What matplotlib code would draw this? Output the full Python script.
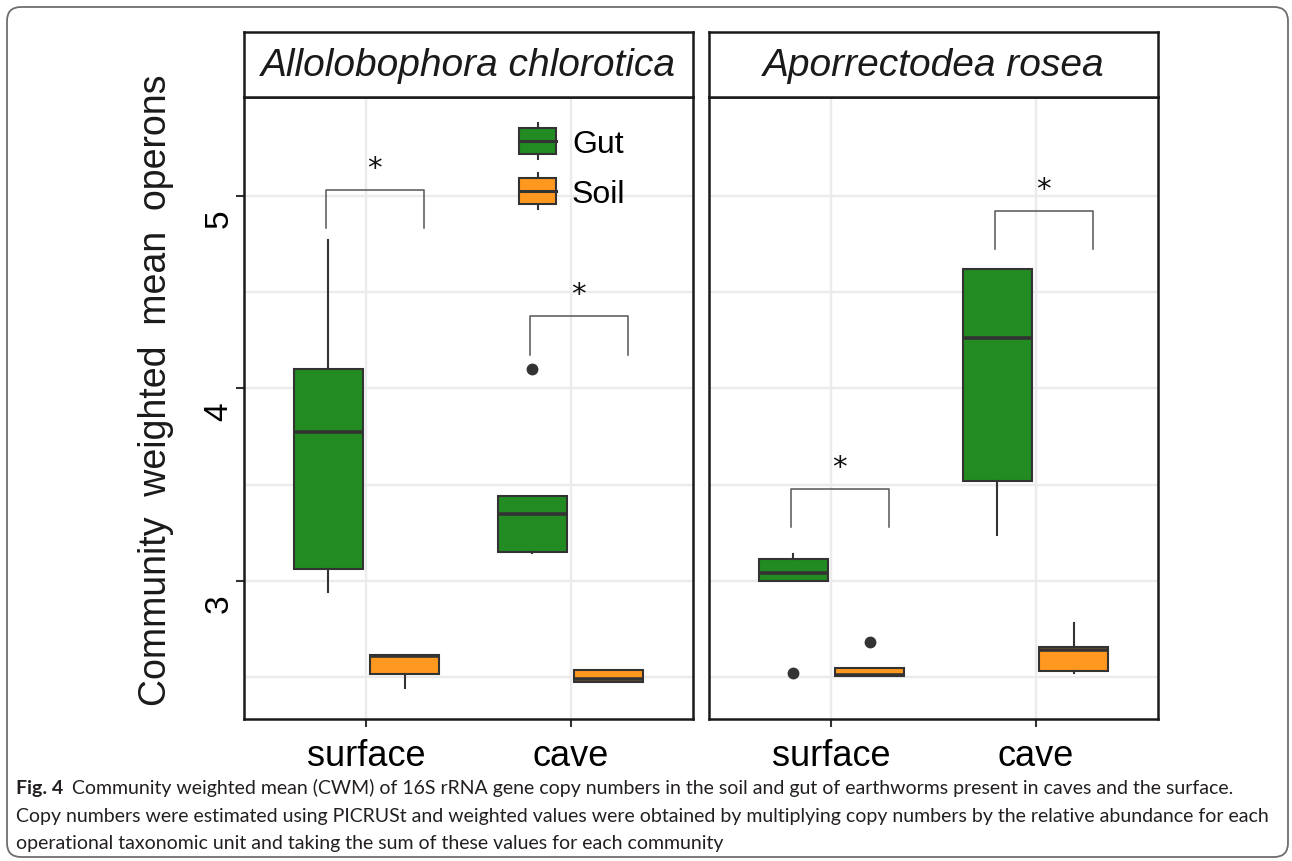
import matplotlib
matplotlib.use("Agg")
import matplotlib.pyplot as plt
from matplotlib.patches import Rectangle, FancyBboxPatch
from matplotlib.lines import Line2D
from matplotlib.legend_handler import HandlerBase
from matplotlib.transforms import IdentityTransform, ScaledTranslation

# --- data (order: A. chlorotica surface, A. chlorotica cave, A. rosea surface, A. rosea cave) ---
species = ["Allolobophora chlorotica", "Aporrectodea rosea"]
habitats = ["surface", "cave"]
groups = ["Gut", "Soil"]

gut_whislo = [2.943, 3.142, 2.997, 3.238]
gut_q1 = [3.061, 3.151, 2.997, 3.520]
gut_med = [3.772, 3.345, 3.040, 4.262]
gut_q3 = [4.101, 3.439, 3.113, 4.620]
gut_whishi = [4.773, 3.439, 3.137, 4.620]
gut_fliers = [[], [4.101], [2.519], []]

soil_whislo = [2.441, 2.475, 2.503, 2.520]
soil_q1 = [2.517, 2.475, 2.503, 2.532]
soil_med = [2.610, 2.487, 2.512, 2.640]
soil_q3 = [2.614, 2.536, 2.545, 2.654]
soil_whishi = [2.614, 2.536, 2.545, 2.780]
soil_fliers = [[], [], [2.680], []]

sig_y = [5.033, 4.375, 3.477, 4.924]
sig_label = ["*", "*", "*", "*"]

y_ticks = [3, 4, 5]
y_minor = [2.5, 3.5, 4.5]
y_label = "Community  weighted  mean  operons"

caption_bold = "Fig. 4"
caption_lines = [
    "Community weighted mean (CWM) of 16S rRNA gene copy numbers in the soil and gut of earthworms present in caves and the surface.",
    "Copy numbers were estimated using PICRUSt and weighted values were obtained by multiplying copy numbers by the relative abundance for each",
    "operational taxonomic unit and taking the sum of these values for each community",
]

# --- style ---
W, H = 1292, 862
colors = {"Gut": "#228B22", "Soil": "#FF981F"}
EDGE = "#333333"
GRID = "#EBEBEB"
SANS = "Liberation Sans"

fig = plt.figure(figsize=(W / 100, H / 100), dpi=100)


def px_axes(x0, y0, x1, y1):
    return fig.add_axes([x0 / W, 1 - y1 / H, (x1 - x0) / W, (y1 - y0) / H])


class BoxKeyHandler(HandlerBase):
    # legend key drawn like a ggplot boxplot glyph
    def create_artists(self, legend, orig_handle, xdescent, ydescent, width, height, fontsize, trans):
        x0, y0 = -xdescent, -ydescent
        bh = height * 0.74
        by = y0 + (height - bh) / 2
        xm = x0 + width / 2
        w1 = Line2D([xm, xm], [y0, by], color=EDGE, lw=1.5, transform=trans)
        w2 = Line2D([xm, xm], [by + bh, y0 + height], color=EDGE, lw=1.5, transform=trans)
        rect = Rectangle((x0, by), width, bh, facecolor=orig_handle.get_facecolor(),
                         edgecolor=EDGE, lw=1.5, transform=trans)
        med = Line2D([x0, x0 + width], [by + bh / 2] * 2, color=EDGE, lw=2.2, transform=trans)
        return [w1, w2, rect, med]


panels_px = [(244, 693), (709, 1158)]
STRIP_TOP, PANEL_TOP, PANEL_BOTTOM = 33, 98, 720
offsets = {"Gut": -0.1875, "Soil": 0.1875}
box_width = 0.3375

for s, name in enumerate(species):
    x0, x1 = panels_px[s]
    ax = px_axes(x0, PANEL_TOP, x1, PANEL_BOTTOM)
    ax.set_xlim(0.4, 2.6)
    ax.set_ylim(2.281, 5.515)
    ax.set_xticks([1, 2])
    ax.set_xticklabels(habitats)
    ax.set_yticks(y_ticks)
    ax.set_yticks(y_minor, minor=True)
    ax.grid(which="both", color=GRID, lw=1.7)
    ax.set_axisbelow(True)
    ax.tick_params(which="minor", left=False, bottom=False)
    ax.tick_params(which="major", length=6, width=1.5, color=EDGE)
    ax.tick_params(axis="x", labelsize=26, pad=8)
    ax.tick_params(axis="y", labelsize=24, pad=1)
    for sp in ax.spines.values():
        sp.set_linewidth(1.8)
        sp.set_color("#1a1a1a")
    for lbl in ax.get_xticklabels():
        lbl.set_family(SANS)
    if s == 0:
        for lbl in ax.get_yticklabels():
            lbl.set_family(SANS)
            lbl.set_rotation(90)
            lbl.set_va("center")
            lbl.set_transform(lbl.get_transform() + ScaledTranslation(0, -0.22, fig.dpi_scale_trans))
    else:
        ax.tick_params(axis="y", left=False, labelleft=False)

    for h in range(len(habitats)):
        idx = s * 2 + h
        for g in groups:
            if g == "Gut":
                st = dict(whislo=gut_whislo[idx], q1=gut_q1[idx], med=gut_med[idx],
                          q3=gut_q3[idx], whishi=gut_whishi[idx], fliers=gut_fliers[idx])
            else:
                st = dict(whislo=soil_whislo[idx], q1=soil_q1[idx], med=soil_med[idx],
                          q3=soil_q3[idx], whishi=soil_whishi[idx], fliers=soil_fliers[idx])
            ax.bxp([st], positions=[h + 1 + offsets[g]], widths=box_width,
                   patch_artist=True, showcaps=False, manage_ticks=False,
                   boxprops=dict(facecolor=colors[g], edgecolor=EDGE, lw=1.5),
                   medianprops=dict(color=EDGE, lw=2.6, solid_capstyle="butt"),
                   whiskerprops=dict(color=EDGE, lw=1.5),
                   flierprops=dict(marker="o", markerfacecolor=EDGE, markeredgecolor=EDGE,
                                   markersize=7.5))

        # significance bracket
        xa, xb = h + 1 - 0.2, h + 1 + 0.28
        y = sig_y[idx]
        ax.plot([xa, xa, xb, xb], [y - 0.2, y, y, y - 0.2], color="#555555", lw=1.1)
        ax.text((xa + xb) / 2, y + 0.073, sig_label[idx], ha="center", va="baseline",
                fontsize=21, family="DejaVu Sans", color="#111111")

    # facet strip
    sax = px_axes(x0, STRIP_TOP, x1, PANEL_TOP)
    sax.set_xticks([])
    sax.set_yticks([])
    for sp in sax.spines.values():
        sp.set_linewidth(1.8)
        sp.set_color("#1a1a1a")
    sax.text(0.5, 0.5, name, transform=sax.transAxes, ha="center", va="center",
             fontsize=28, style="italic", family=SANS, color="#1a1a1a")

    if s == 0:
        handles = [Rectangle((0, 0), 1, 1, facecolor=colors[g]) for g in groups]
        leg = ax.legend(handles, groups, handler_map={Rectangle: BoxKeyHandler()},
                        loc="upper left", bbox_to_anchor=(519 / W, 1 - 124 / H),
                        bbox_transform=fig.transFigure, frameon=False, borderpad=0,
                        borderaxespad=0, handlelength=1.16, handleheight=1.35,
                        handletextpad=0.5, labelspacing=0.45, prop={"family": SANS, "size": 23})

fig.text(156 / W, 1 - 390 / H, y_label, rotation=90, ha="center", va="center",
         fontsize=27, family=SANS, color="#1a1a1a")

# caption
renderer = fig.canvas.get_renderer()
cap_x = 16
baselines = [794, 822, 849]
cap_fs = 16
tb = fig.text(cap_x / W, 1 - baselines[0] / H, caption_bold, fontsize=cap_fs, family="Lato",
              weight="bold", va="baseline", color="#231F20")
t2 = fig.text(cap_x / W, 1 - baselines[1] / H, caption_lines[1], fontsize=cap_fs, family="Lato",
              va="baseline", color="#231F20")
scale = 1258 / t2.get_window_extent(renderer).width
cap_fs *= scale
t2.set_fontsize(cap_fs)
tb.set_fontsize(cap_fs)
bold_end = tb.get_window_extent(renderer).x1
fig.text((bold_end + 9) / W, 1 - baselines[0] / H, caption_lines[0], fontsize=cap_fs,
         family="Lato", va="baseline", color="#231F20")
fig.text(cap_x / W, 1 - baselines[2] / H, caption_lines[2], fontsize=cap_fs, family="Lato",
         va="baseline", color="#231F20")

# rounded outer frame
frame = FancyBboxPatch((7, H - 858), 1281, 850, boxstyle="round,pad=0,rounding_size=14",
                       transform=IdentityTransform(), facecolor="none", edgecolor="#6e6e6e",
                       lw=1.3)
fig.patches.append(frame)

fig.savefig("out.png", dpi=100)
